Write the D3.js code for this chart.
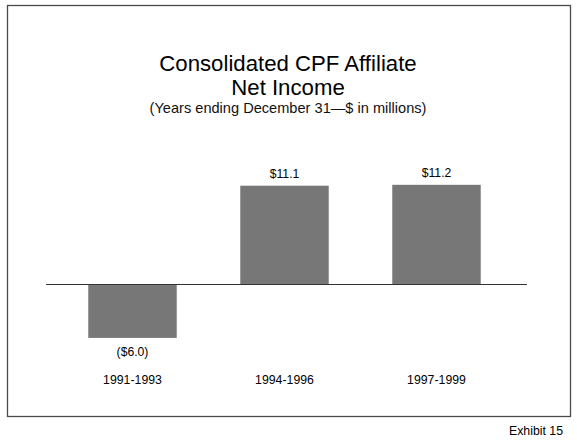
<!DOCTYPE html>
<html>
<head>
<meta charset="utf-8">
<script src="https://cdn.jsdelivr.net/npm/d3@7"></script>
<style>
  html, body { margin: 0; padding: 0; background: #fff; }
  svg { display: block; font-family: "Liberation Sans", Arial, Helvetica, sans-serif; }
</style>
</head>
<body>
<svg id="chart" width="577" height="440"></svg>
<script>
const categories = ["1991-1993", "1994-1996", "1997-1999"];
const values = [-6.0, 11.1, 11.2];
const valueLabels = ["($6.0)", "$11.1", "$11.2"];
const titleLines = ["Consolidated CPF Affiliate", "Net Income"];
const subtitle = "(Years ending December 31\u2014$ in millions)";
const footer = "Exhibit 15";

const svg = d3.select("#chart");

// frame
svg.append("rect")
  .attr("x", 7.5).attr("y", 5.5)
  .attr("width", 563).attr("height", 411)
  .attr("fill", "none").attr("stroke", "#4a4a4a").attr("stroke-width", 1.3);

// titles
svg.selectAll("text.title").data(titleLines).join("text")
  .attr("class", "title")
  .attr("x", 288).attr("y", (d, i) => 71 + i * 23.5)
  .attr("text-anchor", "middle")
  .attr("font-size", 22.2).attr("fill", "#000")
  .text(d => d);

svg.append("text")
  .attr("x", 288).attr("y", 112.5)
  .attr("text-anchor", "middle")
  .attr("font-size", 14.6).attr("fill", "#111")
  .text(subtitle);

const x = d3.scaleBand()
  .domain(categories)
  .range([56.5, 512.5])
  .paddingInner(0.418)
  .paddingOuter(0.209);

const y = d3.scaleLinear()
  .domain([-6.5, 12])
  .range([284.5 + 6.5 * 8.9, 284.5 - 12 * 8.9]);

const data = categories.map((c, i) => ({ c, v: values[i], label: valueLabels[i] }));

svg.selectAll("rect.bar").data(data).join("rect")
  .attr("class", "bar")
  .attr("x", d => x(d.c))
  .attr("width", x.bandwidth())
  .attr("y", d => y(Math.max(0, d.v)))
  .attr("height", d => Math.abs(y(d.v) - y(0)))
  .attr("fill", "#777777");

// zero line
svg.append("line")
  .attr("x1", 46).attr("x2", 527)
  .attr("y1", y(0)).attr("y2", y(0))
  .attr("stroke", "#333").attr("stroke-width", 1.2);

// value labels
svg.selectAll("text.val").data(data).join("text")
  .attr("class", "val")
  .attr("x", d => x(d.c) + x.bandwidth() / 2)
  .attr("y", d => d.v >= 0 ? y(d.v) - 8 : y(d.v) + 18)
  .attr("text-anchor", "middle")
  .attr("font-size", 12.2).attr("fill", "#000")
  .text(d => d.label);

// category labels
svg.selectAll("text.cat").data(categories).join("text")
  .attr("class", "cat")
  .attr("x", d => x(d) + x.bandwidth() / 2)
  .attr("y", 384)
  .attr("text-anchor", "middle")
  .attr("font-size", 12.3).attr("fill", "#000")
  .text(d => d);

svg.append("text")
  .attr("x", 563).attr("y", 435)
  .attr("text-anchor", "end")
  .attr("font-size", 12.3).attr("fill", "#000")
  .text(footer);
</script>
</body>
</html>
